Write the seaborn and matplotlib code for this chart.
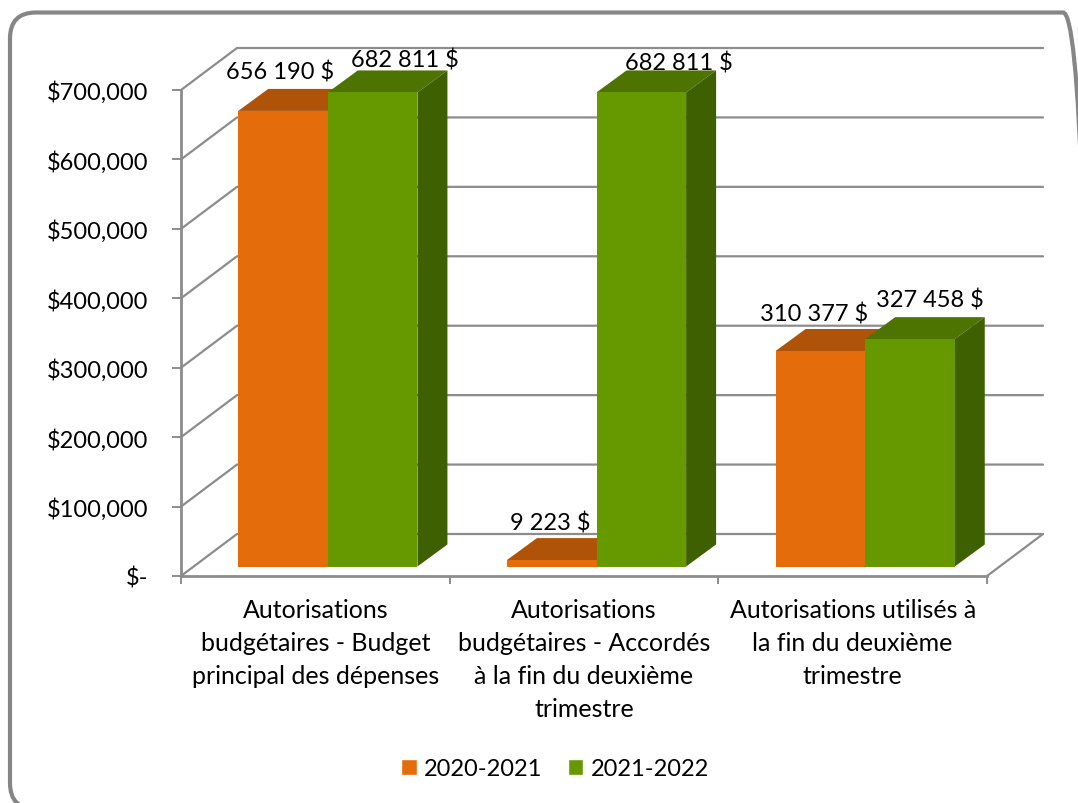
import pandas as pd
import matplotlib.pyplot as plt
import seaborn as sns
from matplotlib.lines import Line2D
from matplotlib.patches import FancyBboxPatch, Patch, Polygon
from matplotlib.transforms import Affine2D, IdentityTransform

categories = [
    'Autorisations\nbudgétaires - Budget\nprincipal des dépenses',
    'Autorisations\nbudgétaires - Accordés\nà la fin du deuxième\ntrimestre',
    'Autorisations utilisés à\nla fin du deuxième\ntrimestre',
]
years = ['2020-2021', '2021-2022']
values_2020 = [656190, 9223, 310377]
values_2021 = [682811, 682811, 327458]
bar_labels_2020 = ['656 190 $', '9 223 $', '310 377 $']
bar_labels_2021 = ['682 811 $', '682 811 $', '327 458 $']
y_ticks = [0, 100000, 200000, 300000, 400000, 500000, 600000, 700000]
y_tick_labels = ['$-', '$100,000', '$200,000', '$300,000', '$400,000', '$500,000', '$600,000', '$700,000']

# pixel offsets of the fake 3d look
wall_dx, wall_dy = 56, 42
bar_dx, bar_dy = 12.5, 9.5
depth_dx, depth_dy = 30, 22
label_offsets_2020 = [(-3, 39), (-1, 38), (-6, 38)]
label_offsets_2021 = [(32, 33), (38, 30), (20, 40)]

orange, orange_top = '#E46C0A', '#AE5307'
green, green_top, green_side = '#669900', '#4D7300', '#3F6000'
line_grey = '#8C8C8C'

W, H = 1078, 804

sns.set_theme(style='white')
plt.rcParams['font.family'] = ['Lato', 'DejaVu Sans']

df = pd.DataFrame({
    'categorie': categories * 2,
    'annee': [years[0]] * 3 + [years[1]] * 3,
    'valeur': values_2020 + values_2021,
})

fig = plt.figure(figsize=(W / 100, H / 100), dpi=100, facecolor='white')
ax = fig.add_axes([181 / W, 1 - 577 / H, (987 - 181) / W, (577 - 91) / H])
ax.patch.set_alpha(0)

sns.barplot(data=df, x='categorie', y='valeur', hue='annee', hue_order=years,
            palette=[orange, green], width=0.667, gap=0, saturation=1,
            legend=False, ax=ax)
ax.set_xlim(-0.5, 2.5)
ax.set_ylim(0, 700000)
ax.set_xlabel('')
ax.set_ylabel('')

ax.set_yticks(y_ticks, labels=y_tick_labels)
ax.set_xticks([-0.5, 0.5, 1.5, 2.5], labels=[])
ax.set_xticks([0, 1, 2], labels=categories, minor=True)
ax.tick_params(axis='y', length=6.5, width=1.4, color=line_grey, pad=17, labelsize=17, labelcolor='black', left=True)
ax.tick_params(axis='x', which='major', length=6, width=1.4, color=line_grey, bottom=True)
ax.tick_params(axis='x', which='minor', length=0, pad=16, labelsize=18, labelcolor='black')
for lab in ax.get_xticklabels(minor=True):
    lab.set_linespacing(1.52)
sns.despine(ax=ax, top=True, right=True)
for side in ['left', 'bottom']:
    ax.spines[side].set_color(line_grey)
    ax.spines[side].set_linewidth(2)


def to_px(x, y, dx=0, dy=0):
    px, py = ax.transData.transform((x, y))
    return px + dx, py + dy


# back wall and floor
for v in y_ticks:
    a = to_px(-0.5, v)
    b = to_px(-0.5, v, wall_dx, wall_dy)
    c = to_px(2.5, v, wall_dx, wall_dy)
    ax.add_line(Line2D([a[0], b[0], c[0]], [a[1], b[1], c[1]], transform=IdentityTransform(),
                       color=line_grey, lw=1.6, zorder=1, clip_on=False))
a = to_px(2.5, 0)
b = to_px(2.5, 0, wall_dx, wall_dy)
ax.add_line(Line2D([a[0], b[0]], [a[1], b[1]], transform=IdentityTransform(),
                   color=line_grey, lw=1.6, zorder=1, clip_on=False))

# the bars seaborn drew are the front faces, push them into the chart and add top and side
shift = Affine2D().translate(bar_dx, bar_dy)
bars = list(ax.containers[0]) + list(ax.containers[1])
for i, bar in enumerate(bars):
    first = i < 3
    base = 2 if first else 5
    x0, x1 = bar.get_x(), bar.get_x() + bar.get_width()
    h = bar.get_height()
    bar.set_transform(ax.transData + shift)
    bar.set_clip_on(False)
    bar.set_zorder(base + 1)
    bar.set_edgecolor('none')

    fl = to_px(x0, h, bar_dx, bar_dy)
    fr = to_px(x1, h, bar_dx, bar_dy)
    br = to_px(x1, 0, bar_dx, bar_dy)
    top = [fl, fr, (fr[0] + depth_dx, fr[1] + depth_dy), (fl[0] + depth_dx, fl[1] + depth_dy)]
    side = [fr, br, (br[0] + depth_dx, br[1] + depth_dy), (fr[0] + depth_dx, fr[1] + depth_dy)]
    ax.add_patch(Polygon(top, closed=True, transform=IdentityTransform(), clip_on=False,
                         facecolor=orange_top if first else green_top, edgecolor='none', zorder=base))
    ax.add_patch(Polygon(side, closed=True, transform=IdentityTransform(), clip_on=False,
                         facecolor=orange_top if first else green_side, edgecolor='none', zorder=base))

    # data labels
    txt = (bar_labels_2020 if first else bar_labels_2021)[i % 3]
    off = (label_offsets_2020 if first else label_offsets_2021)[i % 3]
    cx = (fl[0] + fr[0]) / 2 + off[0]
    cy = fl[1] + off[1]
    ax.text(cx, cy, txt, transform=IdentityTransform(), ha='center', va='center',
            fontsize=17, color='black', zorder=10, clip_on=False)

handles = [Patch(facecolor=orange, label=years[0]), Patch(facecolor=green, label=years[1])]
ax.legend(handles=handles, loc='center', bbox_to_anchor=(555 / W, 1 - 770 / H),
          bbox_transform=fig.transFigure, ncols=2, frameon=False, fontsize=17,
          handlelength=0.65, handleheight=0.65, handletextpad=0.3, columnspacing=1.1, labelcolor='black')

# rounded chart frame, runs off the image on the right and the bottom
fig.add_artist(FancyBboxPatch((36, H - 784), 1089 - 62, 784 - 13.5 - 26,
                              boxstyle='round,pad=26', transform=IdentityTransform(),
                              facecolor='none', edgecolor='#868686', lw=3))

fig.savefig('out.png', dpi=100)
